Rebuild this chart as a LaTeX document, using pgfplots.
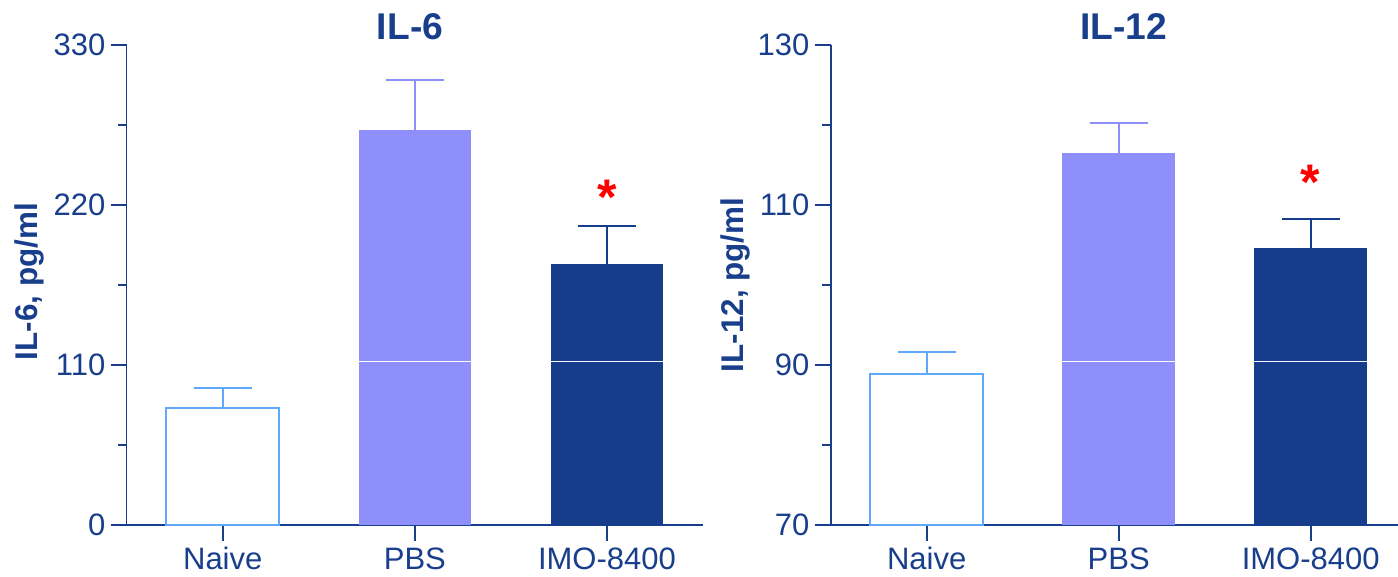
\documentclass[border=0pt]{standalone}
\usepackage{pgfplots}
\pgfplotsset{compat=1.18}
\usepackage{fontspec}
\setmainfont{Liberation Sans}
\definecolor{navy}{RGB}{24,62,140}
\definecolor{imoc}{RGB}{22,61,140}
\definecolor{pbsc}{RGB}{143,143,252}
\definecolor{naivec}{RGB}{95,168,250}
\pgfplotsset{
  panel/.style={
    scale only axis,
    height=240pt,
    xmin=-0.5, xmax=2.5,
    axis lines=left,
    axis line style={-, navy, line width=0.8pt},
    every tick/.style={navy, line width=0.8pt},
    tick align=outside,
    major tick length=8pt,
    minor tick length=4.2pt,
    xtick={0,1,2},
    xticklabels={Naive,PBS,IMO-8400},
    tick label style={text=navy, font=\fontsize{15.5}{15.5}\selectfont},
    yticklabel style={inner sep=2.5pt},
    xticklabel style={inner sep=3pt},
    /pgf/number format/assume math mode=true,
    ylabel style={anchor=center, text=navy, font=\fontsize{15.7}{15.7}\selectfont\bfseries},
    title style={anchor=center, text=navy, font=\fontsize{18.6}{18.6}\selectfont\bfseries},
  },
  bstyle/.style={ybar, bar width=0.586, bar shift=0pt, line width=1pt,
    error bars/y dir=plus, error bars/y explicit,
    error bars/error bar style={line width=1pt, color=#1},
    error bars/error mark options={rotate=90, mark size=14.4pt, line width=1pt, color=#1}},
}
\begin{document}
\begin{tikzpicture}
\useasboundingbox (0,0) rectangle (699pt,-288.5pt);
% ---------- IL-6 ----------
\begin{axis}[panel, at={(63.35pt,-262.5pt)}, anchor=south west,
  width=288.15pt,
  ymin=0, ymax=330,
  ytick={0,110,220,330}, minor ytick={55,165,275},
  ylabel={IL-6, pg/ml},
  ylabel style={at={(axis description cs:-0.1687,0.507)}},
  title={IL-6},
  title style={at={(axis description cs:0.4916,1)}, yshift=3.3pt},
]
\addplot[bstyle=naivec, fill=white, draw=naivec] coordinates {(0,80.2) +- (0,14.0)};
\addplot[bstyle=pbsc, fill=pbsc, draw=none] coordinates {(1,271.6) +- (0,34.4)};
\addplot[bstyle=imoc, fill=imoc, draw=none] coordinates {(2,179.2) +- (0,26.6)};
\addplot[white, line width=0.5pt] coordinates {(0.707,112.1) (2.293,112.1)};
\node[text=red, font=\fontsize{25}{25}\selectfont\bfseries] at (axis cs:2,225.5) {*};
\end{axis}
% ---------- IL-12 ----------
\begin{axis}[panel, at={(415.35pt,-262.5pt)}, anchor=south west,
  width=288pt,
  ymin=70, ymax=130,
  ytick={70,90,110,130}, minor ytick={80,100,120},
  ylabel={IL-12, pg/ml},
  ylabel style={at={(axis description cs:-0.166,0.5)}},
  title={IL-12},
  title style={at={(axis description cs:0.509,1)}, yshift=3.35pt},
]
\addplot[bstyle=naivec, fill=white, draw=naivec] coordinates {(0,88.9) +- (0,2.7)};
\addplot[bstyle=pbsc, fill=pbsc, draw=none] coordinates {(1,116.5) +- (0,3.8)};
\addplot[bstyle=imoc, fill=imoc, draw=none] coordinates {(2,104.6) +- (0,3.7)};
\addplot[white, line width=0.5pt] coordinates {(0.707,90.4) (2.293,90.4)};
\node[text=red, font=\fontsize{25}{25}\selectfont\bfseries] at (axis cs:2,112.9) {*};
\end{axis}
\end{tikzpicture}
\end{document}
